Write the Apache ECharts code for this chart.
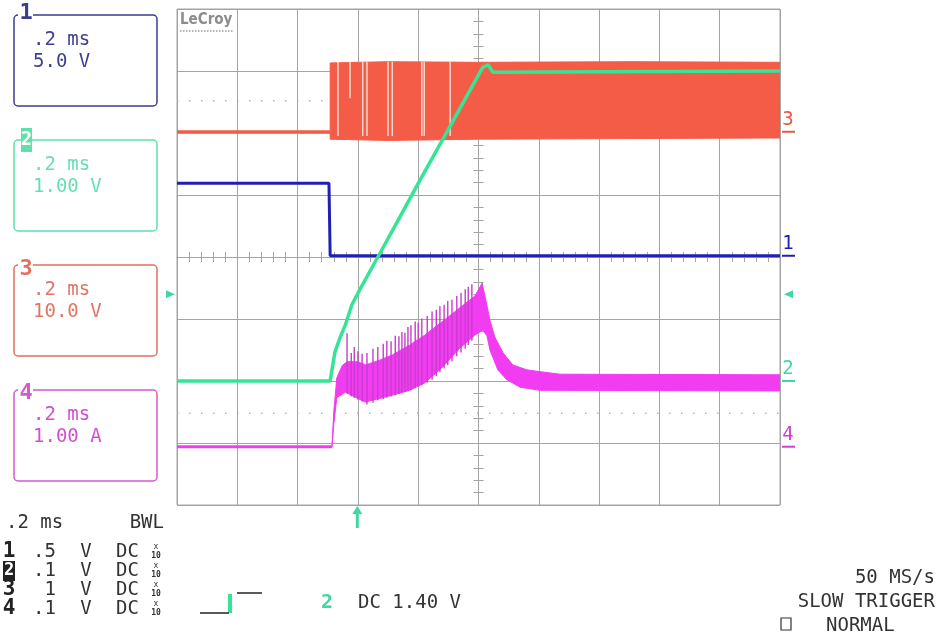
<!DOCTYPE html>
<html><head><meta charset="utf-8">
<script src="https://cdn.jsdelivr.net/npm/echarts/dist/echarts.min.js"></script>
<style>html,body{margin:0;padding:0;background:#fff}#c{width:938px;height:636px}</style>
</head><body><div id="c"></div>
<script>
// ---- data (x: divisions from screen centre, y: divisions from centre) ----
const ch1 = [[-5,1.19],[-2.48,1.19],[-2.46,0.02],[5,0.02]];
const ch2 = [[-5,-2.0],[-2.46,-2.0],[-2.43,-1.82],[-2.38,-1.53],[-2.30,-1.31],[-2.21,-1.10],[-2.10,-0.77],[-1.97,-0.53],[-1.68,-0.02],[-1.30,0.65],[-0.97,1.24],[-0.59,1.90],[-0.22,2.55],[0.07,3.06],[0.16,3.10],[0.24,2.98],[5,3.0]];
const ch3Base = [[-5,2.02],[-2.46,2.02]];
const ch3Upper = [[-2.46,3.13],[-1.5,3.15],[0,3.14],[2.5,3.15],[5,3.14]];
const ch3Lower = [[-2.46,1.90],[-1.5,1.88],[0,1.90],[2.5,1.91],[5,1.92]];
const ch3Gaps = [[-2.33,3.15,1.95],[-2.13,3.15,2.56],[-1.92,3.15,1.95],[-1.85,3.15,1.95],[-1.50,3.15,1.95],[-1.43,3.15,1.95],[-0.94,3.15,1.95],[-0.90,3.15,1.95],[-0.47,3.15,1.95]];
const ch4Base = [[-5,-3.06],[-2.43,-3.06]];
const ch4Upper = [[-2.43,-3.06],[-2.40,-2.50],[-2.35,-1.95],[-2.26,-1.75],[-2.18,-1.69],[-2.00,-1.69],[-1.87,-1.74],[-1.63,-1.66],[-1.43,-1.58],[-1.14,-1.42],[-0.89,-1.26],[-0.61,-1.05],[-0.31,-0.82],[-0.06,-0.63],[0.06,-0.42],[0.12,-0.69],[0.19,-1.02],[0.27,-1.29],[0.41,-1.55],[0.57,-1.74],[0.80,-1.82],[1.02,-1.85],[1.35,-1.89],[5,-1.90]];
const ch4Lower = [[-2.43,-3.06],[-2.40,-2.70],[-2.35,-2.27],[-2.21,-2.18],[-1.88,-2.34],[-1.43,-2.23],[-1.14,-2.15],[-0.89,-2.03],[-0.61,-1.79],[-0.31,-1.47],[-0.06,-1.26],[0.07,-1.18],[0.14,-1.27],[0.19,-1.50],[0.32,-1.82],[0.47,-1.98],[0.69,-2.10],[1.02,-2.15],[5,-2.16]];
const ch4Spikes = [[-2.18,-1.23,-2.20],[-2.11,-1.55,-2.25],[-2.06,-1.45,-2.27],[-2.00,-1.52,-2.30],[-1.93,-1.56,-2.33],[-1.85,-1.55,-2.38],[-1.75,-1.48,-2.35],[-1.67,-1.45,-2.31],[-1.58,-1.40,-2.29],[-1.52,-1.35,-2.27],[-1.45,-1.36,-2.25],[-1.38,-1.27,-2.23],[-1.32,-1.28,-2.21],[-1.27,-1.21,-2.19],[-1.22,-1.22,-2.17],[-1.17,-1.13,-2.16],[-1.12,-1.10,-2.14],[-1.05,-1.04,-2.11],[-1.00,-1.06,-2.09],[-0.94,-0.99,-2.07],[-0.85,-0.95,-2.03],[-0.77,-0.88,-1.98],[-0.70,-0.85,-1.92],[-0.64,-0.79,-1.86],[-0.57,-0.77,-1.80],[-0.51,-0.71,-1.74],[-0.44,-0.69,-1.68],[-0.36,-0.63,-1.60],[-0.29,-0.58,-1.54],[-0.22,-0.52,-1.48],[-0.17,-0.48,-1.42],[-0.11,-0.44,-1.35]];
const groundLevels = [0.02,-2.0,2.02,-3.06];   // ch1..ch4 ground markers
const triggerLevel = -0.6;                      // ch2 trigger level
const triggerTime = -2.01;                      // trigger position
const dottedLevels = [2.52,-2.52];

const boxTexts = [['.2 ms','5.0 V'],['.2 ms','1.00 V'],['.2 ms','10.0 V'],['.2 ms','1.00 A']];
const rowNames = ['1','2','3','4'];
const rowVolts = ['.5','.1','1','.1'];
const rightTexts = ['50 MS/s','SLOW TRIGGER','NORMAL'];

const C1='#1f1fb5', C2='#35e595', C3='#f45c47', C4='#f23cf2';
const BOXC = ['#3c3c8e','#5ce2aa','#e2705f','#d45ad4'];
const BOXT = ['#40408f','#66dfb2','#e07565','#d050d0'];
const MARKC = ['#2020b0','#40d8a0','#e05a48','#d040d0'];
const GRIDC = '#a4a4a4';
const MONO = '"DejaVu Sans Mono", monospace';

function polySeries(upper, lower, color, z){
  return {type:'custom', z, silent:true, clip:true, data:[[upper[0][0],upper[0][1]]],
    renderItem:(p, api)=>{
      const pts = upper.concat(lower.slice().reverse()).map(q=>api.coord(q));
      return {type:'polygon', shape:{points:pts}, style:{fill:color, stroke:color, lineWidth:1}};
    }};
}
function segSeries(list, color, width, z){
  return {type:'custom', z, silent:true, clip:true, data:list,
    renderItem:(p, api)=>{
      const x=api.value(0), a=api.coord([x,api.value(1)]), b=api.coord([x,api.value(2)]);
      return {type:'line', shape:{x1:a[0],y1:a[1],x2:b[0],y2:b[1]}, style:{stroke:color, lineWidth:width}};
    }};
}
function hLineSeries(levels, color, z){
  return {type:'custom', z, silent:true, clip:true, data:levels.map(v=>[0,v]),
    renderItem:(p, api)=>{
      const a=api.coord([-5,api.value(1)]), b=api.coord([5,api.value(1)]);
      return {type:'line', shape:{x1:a[0],y1:a[1],x2:b[0],y2:b[1]}, style:{stroke:color, lineWidth:1.3, lineDash:[1.5,10.5]}};
    }};
}
function lineSeries(data, color, width, z){
  return {type:'line', data, z, showSymbol:false, symbol:'none', silent:true,
    lineStyle:{color, width}, itemStyle:{color}};
}

const tickStyle = {color:GRIDC, width:1};
function axis(pos, min, max, split){
  return {type:'value', min, max, interval:1, position:pos,
    axisLine:{show:true, onZero:true, lineStyle:{color:GRIDC, width:1}},
    axisTick:{show:true, length:5, lineStyle:tickStyle},
    minorTick:{show:true, splitNumber:5, length:5, lineStyle:tickStyle},
    axisLabel:{show:false},
    splitLine:{show:split, lineStyle:{color:GRIDC, width:1}},
    minorSplitLine:{show:false}};
}

const chart = echarts.init(document.getElementById('c'), null, {renderer:'canvas'});
chart.setOption({
  animation:false,
  backgroundColor:'#fff',
  grid:{left:177, top:9, width:603, height:496, show:true, borderColor:GRIDC, borderWidth:1, backgroundColor:'#fff'},
  xAxis:[axis('bottom',-5,5,true), axis('top',-5,5,false)],
  yAxis:[axis('left',-4,4,true), axis('right',-4,4,false)],
  series:[
    hLineSeries(dottedLevels, '#b4b4b4', 1),
    polySeries(ch3Upper, ch3Lower, C3, 2),
    lineSeries(ch3Base, C3, 3, 2),
    segSeries(ch3Gaps, '#fcd6cc', 1.5, 3),
    lineSeries(ch1, C1, 3, 4),
    polySeries(ch4Upper, ch4Lower, C4, 5),
    lineSeries(ch4Base, C4, 3, 5),
    segSeries(ch4Spikes, '#c83ccc', 1.4, 5),
    lineSeries(ch2, C2, 3.5, 6)
  ]
});

// ---- decorations (panel text, markers) ----
const g = [];
function txt(x,y,text,font,fill,align,z){
  g.push({type:'text', x, y, z:z||10, silent:true, style:{text, font, fill,
    align:align||'left', verticalAlign:'middle', textAlign:align||'left', textVerticalAlign:'middle'}});
}
function ln(x1,y1,x2,y2,stroke,w,dash){
  g.push({type:'line', silent:true, z:10, shape:{x1,y1,x2,y2}, style:{stroke, lineWidth:w, lineDash:dash||null}});
}
function rect(x,y,w,h,style,r){
  g.push({type:'rect', silent:true, z:9, shape:{x,y,width:w,height:h,r:r||0}, style});
}
// channel boxes
const boxTops = [15,140,265,390];
const numY = [13,140,269,393];
boxTops.forEach((t,i)=>{
  rect(14,t,143,91,{fill:'none', stroke:BOXC[i], lineWidth:1.5},4);
  if(i===1){
    rect(21,128,11,24,{fill:BOXC[i]});
    txt(26.5,numY[i],'2','bold 19px '+MONO,'#fff','center');
  } else {
    rect(18,t-4,15,9,{fill:'#fff'});
    txt(26,numY[i],String(i+1),'bold 22px '+MONO,BOXC[i],'center');
  }
  txt(33,t+25,boxTexts[i][0],'19px '+MONO,BOXT[i]);
  txt(33,t+47,boxTexts[i][1],'19px '+MONO,BOXT[i]);
});
// bottom-left settings table
txt(6,523,'.2 ms','19px '+MONO,'#333');
txt(164,523,'BWL','19px '+MONO,'#333','right');
const rowY=[552,571,590,609];
rowY.forEach((y,i)=>{
  if(i===1){ rect(3,y-10,12,20,{fill:'#222'}); txt(9,y,'2','bold 17px '+MONO,'#fff','center'); }
  else txt(9,y,rowNames[i],'bold 21px '+MONO,'#222','center');
  txt(56,y,rowVolts[i],'19px '+MONO,'#333','right');
  txt(86,y,'V','19px '+MONO,'#333','center');
  txt(116,y,'DC','19px '+MONO,'#333');
  txt(156,y-5,'x','8px '+MONO,'#333','center');
  txt(156,y+4,'10','bold 8px '+MONO,'#333','center');
});
// trigger icon + text
ln(200,613,229,613,'#222',1.5);
rect(228,594,4,19,{fill:C2});
ln(237,593,262,593,'#222',1.5);
txt(327,603,'2','bold 20px '+MONO,'#40d8a0','center');
txt(358,603,'DC 1.40 V','19px '+MONO,'#333');
// bottom-right
txt(935,578,rightTexts[0],'19px '+MONO,'#333','right');
txt(935,602,rightTexts[1],'19px '+MONO,'#333','right');
txt(826,626,rightTexts[2],'19px '+MONO,'#333');
rect(781,618,10,12,{fill:'none', stroke:'#333', lineWidth:1.2});
// LeCroy logo
txt(180,20,'LeCroy','bold 15px "DejaVu Sans Condensed", "DejaVu Sans", sans-serif','#8c8c8c');
ln(180,31,233,31,'#9a9a9a',1.5,[1.5,1.5]);
// right ground markers
groundLevels.forEach((v,i)=>{
  const y = chart.convertToPixel({yAxisIndex:0}, v);
  txt(788,y-12,String(i+1),'19px '+MONO,MARKC[i],'center');
  ln(782,y,795,y,MARKC[i],2);
});
// trigger level arrows
const ty = chart.convertToPixel({yAxisIndex:0}, triggerLevel);
g.push({type:'polygon', silent:true, z:10, shape:{points:[[166,ty-4],[175,ty],[166,ty+4]]}, style:{fill:'#40d8a0'}});
g.push({type:'polygon', silent:true, z:10, shape:{points:[[793,ty-4],[784,ty],[793,ty+4]]}, style:{fill:'#40d8a0'}});
const tx = chart.convertToPixel({xAxisIndex:0}, triggerTime);
g.push({type:'polygon', silent:true, z:10, shape:{points:[[tx-5,514],[tx,506],[tx+5,514]]}, style:{fill:'#40d8a0'}});
rect(tx-1.5,512,3,16,{fill:'#40d8a0'});

chart.setOption({graphic:g});
</script>
</body></html>
